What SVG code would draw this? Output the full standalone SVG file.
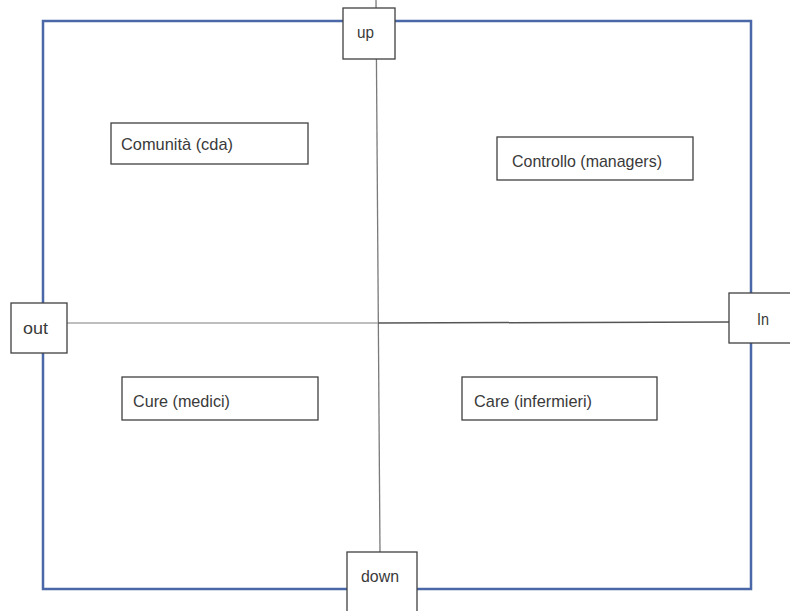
<svg xmlns="http://www.w3.org/2000/svg" width="790" height="611" viewBox="0 0 790 611">
<style>
.box{fill:#fff;stroke:#404040;stroke-width:1.3}
.lbl{font-family:"Liberation Sans","DejaVu Sans",sans-serif;font-size:17px;fill:#3a3a3a}
.frame{fill:none;stroke:#4a68a8;stroke-width:2.5}
</style>
<rect width="790" height="611" fill="#fff"/>
<rect class="frame" x="43" y="21" width="708" height="568"/>
<g id="connectors">
<line x1="376" y1="0" x2="380" y2="552" stroke="#7a7a7a" stroke-width="1.3"/>
<line x1="67" y1="323" x2="378" y2="323" stroke="#a8a8a8" stroke-width="1.5"/>
<line x1="378" y1="323" x2="729" y2="322" stroke="#555" stroke-width="1.5"/>
</g>
<g id="up"><rect class="box" x="343" y="8" width="52" height="51"/><text class="lbl" x="357" y="38" textLength="17" lengthAdjust="spacingAndGlyphs">up</text></g>
<g id="out"><rect class="box" x="11" y="303" width="56" height="50"/><text class="lbl" x="23" y="334" textLength="25" lengthAdjust="spacingAndGlyphs">out</text></g>
<g id="in"><rect class="box" x="729" y="293" width="75" height="50"/><text class="lbl" x="757" y="325" textLength="12" lengthAdjust="spacingAndGlyphs">In</text></g>
<g id="down"><rect class="box" x="347" y="552" width="70" height="70"/><text class="lbl" x="361" y="582" textLength="38" lengthAdjust="spacingAndGlyphs">down</text></g>
<g id="comunita"><rect class="box" x="111" y="123" width="197" height="41"/><text class="lbl" x="121" y="150" textLength="112" lengthAdjust="spacingAndGlyphs">Comunità (cda)</text></g>
<g id="controllo"><rect class="box" x="497" y="137" width="196" height="43"/><text class="lbl" x="512" y="167" textLength="150" lengthAdjust="spacingAndGlyphs">Controllo (managers)</text></g>
<g id="cure"><rect class="box" x="122" y="377" width="196" height="43"/><text class="lbl" x="133" y="407" textLength="97" lengthAdjust="spacingAndGlyphs">Cure (medici)</text></g>
<g id="care"><rect class="box" x="462" y="377" width="195" height="43"/><text class="lbl" x="474" y="407" textLength="118" lengthAdjust="spacingAndGlyphs">Care (infermieri)</text></g>
</svg>
